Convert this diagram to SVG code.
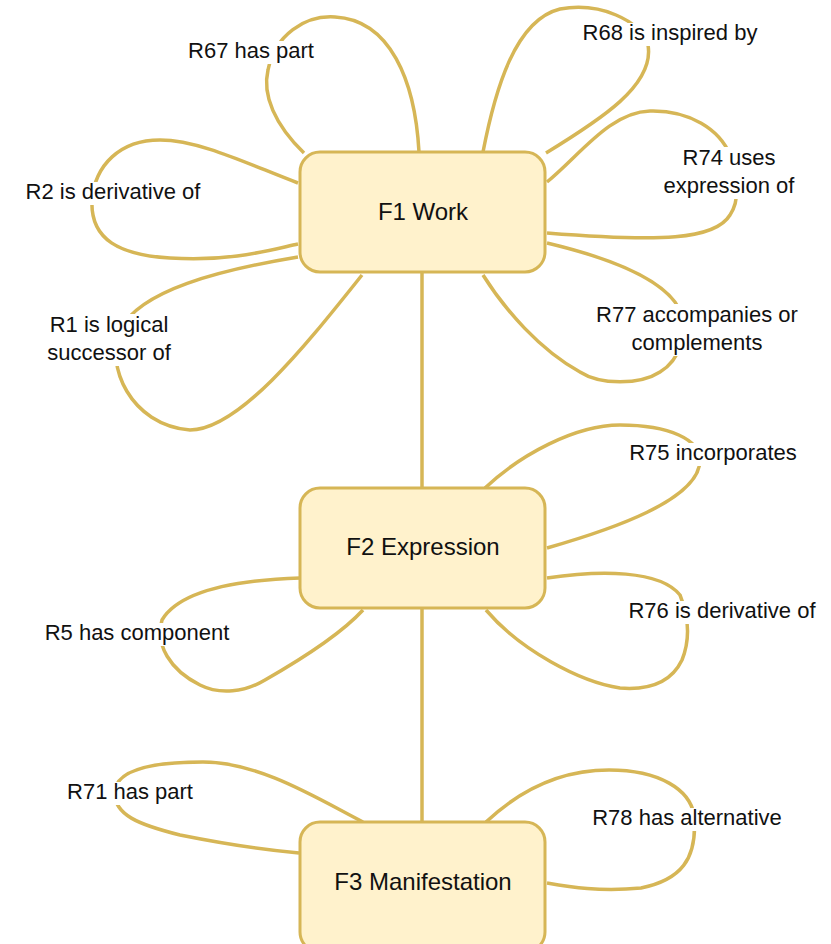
<svg xmlns="http://www.w3.org/2000/svg" width="831" height="944" viewBox="0 0 831 944">
<style>
.node{fill:#FFF2CC;stroke:#D6B656;stroke-width:3}
.edge{fill:none;stroke:#D6B656;stroke-width:3.5}
.nt{font-family:"Liberation Sans",Arial,sans-serif;font-size:24px;fill:#111;text-anchor:middle}
.lt{font-family:"Liberation Sans",Arial,sans-serif;font-size:22px;fill:#111;text-anchor:middle}
.bg{fill:#fff}
</style>
<rect width="831" height="944" fill="#fff"/>
<g id="connectors">
<path class="edge" d="M422,272 V488"/>
<path class="edge" d="M422,608 V822"/>
<path id="e-r67" class="edge" d="M304,153 C275,125 262,95 268,70 C275,35 305,15 335,17 C390,20 415,80 419,152"/>
<path id="e-r2" class="edge" d="M298,183 C250,165 200,140 160,140 C120,140 95,165 92,200 C90,240 120,255 170,258 C230,262 270,250 298,244"/>
<path id="e-r1" class="edge" d="M298,257 C220,270 140,290 120,330 C105,365 130,425 190,430 C240,430 310,340 362,275"/>
<path id="e-r68" class="edge" d="M483,152 C495,90 515,20 560,9 C600,2 640,20 648,45 C655,85 600,120 546,153"/>
<path id="e-r74" class="edge" d="M547,182 C580,155 610,112 650,111 C690,110 720,130 730,155 C738,180 740,200 730,215 C715,240 660,242 547,233"/>
<path id="e-r77" class="edge" d="M547,243 C610,258 665,280 680,310 C690,330 680,360 660,372 C640,385 600,385 580,372 C540,350 505,310 483,275"/>
<path id="e-r75" class="edge" d="M485,488 C520,455 575,425 620,425 C670,425 700,440 700,460 C700,500 610,530 547,548"/>
<path id="e-r76" class="edge" d="M547,578 C600,570 660,570 680,595 C690,620 690,640 682,660 C670,685 645,690 620,688 C580,682 520,650 486,610"/>
<path id="e-r5" class="edge" d="M300,578 C240,580 180,590 162,620 C155,645 170,670 200,685 C220,695 245,692 265,680 C300,660 340,635 363,610"/>
<path id="e-r71" class="edge" d="M363,822 C320,800 260,762 203,762 C150,762 118,770 115,790 C112,815 140,825 180,835 C230,845 265,850 299,853"/>
<path id="e-r78" class="edge" d="M486,822 C520,790 560,770 609,770 C660,770 690,790 694,815 C698,860 680,880 641,888 C600,892 570,887 547,883"/>
</g>
<g id="labels">
<g id="l-r67"><rect class="bg" x="187" y="41" width="129" height="23"/><text class="lt" x="251" y="58">R67 has part</text></g>
<g id="l-r2"><rect class="bg" x="23" y="182" width="180" height="23"/><text class="lt" x="113" y="199">R2 is derivative of</text></g>
<g id="l-r1"><rect class="bg" x="45" y="314" width="128" height="52"/><text class="lt" x="109" y="332">R1 is logical</text><text class="lt" x="109" y="360">successor of</text></g>
<g id="l-r68"><rect class="bg" x="580" y="23" width="180" height="23"/><text class="lt" x="670" y="40">R68 is inspired by</text></g>
<g id="l-r74"><rect class="bg" x="660" y="147" width="138" height="52"/><text class="lt" x="729" y="165">R74 uses</text><text class="lt" x="729" y="193">expression of</text></g>
<g id="l-r77"><rect class="bg" x="593" y="304" width="208" height="52"/><text class="lt" x="697" y="322">R77 accompanies or</text><text class="lt" x="697" y="350">complements</text></g>
<g id="l-r75"><rect class="bg" x="627" y="443" width="174" height="23"/><text class="lt" x="713" y="460">R75 incorporates</text></g>
<g id="l-r76"><rect class="bg" x="625" y="601" width="194" height="23"/><text class="lt" x="722" y="618">R76 is derivative of</text></g>
<g id="l-r5"><rect class="bg" x="41" y="623" width="192" height="23"/><text class="lt" x="137" y="640">R5 has component</text></g>
<g id="l-r71"><rect class="bg" x="65" y="782" width="130" height="23"/><text class="lt" x="130" y="799">R71 has part</text></g>
<g id="l-r78"><rect class="bg" x="590" y="808" width="194" height="23"/><text class="lt" x="687" y="825">R78 has alternative</text></g>
</g>
<g id="f1"><rect class="node" x="300" y="152" width="245" height="120" rx="20"/><text class="nt" x="423" y="220">F1 Work</text></g>
<g id="f2"><rect class="node" x="300" y="488" width="245" height="120" rx="20"/><text class="nt" x="423" y="555">F2 Expression</text></g>
<g id="f3"><rect class="node" x="300" y="822" width="245" height="130" rx="20"/><text class="nt" x="423" y="890">F3 Manifestation</text></g>
</svg>
